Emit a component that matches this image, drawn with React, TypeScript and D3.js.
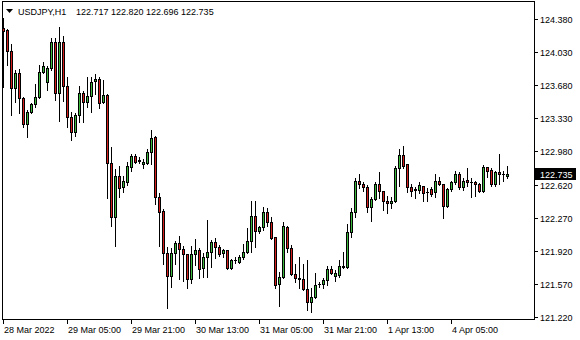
import React from "react";
import * as d3 from "d3";

const SYMBOL = "USDJPY,H1";
const HEADER_VALUES = "122.717 122.820 122.696 122.735";
const LAST_PRICE = 122.735;

const opens = [124.285,124.263,124.041,123.648,123.807,123.542,123.267,123.394,123.479,123.553,123.818,123.712,123.860,124.136,123.595,124.136,123.670,123.341,123.182,123.362,123.595,123.500,123.563,123.723,123.744,123.500,123.574,122.853,122.280,122.715,122.598,122.652,122.811,122.927,122.874,122.842,122.853,122.970,123.129,122.492,122.344,121.899,121.655,121.899,122.005,121.941,121.888,121.623,121.888,121.930,121.740,121.856,121.909,122.015,121.962,121.899,121.930,121.740,121.824,121.803,121.856,121.909,122.026,122.291,122.132,122.174,122.333,122.227,122.068,121.570,121.644,122.174,121.952,121.676,121.634,121.623,121.517,121.379,121.432,121.570,121.570,121.612,121.729,121.655,121.665,121.750,121.750,122.121,122.333,122.662,122.630,122.598,122.386,122.471,122.630,122.556,122.450,122.429,122.450,122.800,122.938,122.842,122.598,122.577,122.567,122.609,122.545,122.577,122.545,122.662,122.630,122.397,122.577,122.652,122.736,122.598,122.673,122.652,122.652,122.630,122.556,122.811,122.779,122.630,122.758,122.736,122.717];
const highs = [124.391,124.274,124.115,123.839,123.850,123.553,123.415,123.489,123.691,123.892,123.924,123.882,124.179,124.179,124.295,124.200,123.765,123.394,123.383,123.670,123.617,123.765,123.765,123.797,123.765,123.733,123.580,123.023,122.789,122.821,122.715,122.864,122.948,122.948,122.917,122.895,123.001,123.203,123.135,122.535,122.365,121.962,121.952,122.026,122.079,121.973,121.890,121.973,122.047,121.952,121.899,122.249,122.037,122.058,121.984,121.941,121.935,121.835,121.856,121.877,121.994,122.164,122.450,122.450,122.185,122.386,122.376,122.280,122.070,121.697,122.227,122.180,121.984,121.782,121.856,121.782,121.824,121.528,121.687,121.591,121.634,121.761,121.761,121.718,121.824,121.909,122.206,122.376,122.694,122.736,122.652,122.620,122.492,122.652,122.758,122.560,122.503,122.492,122.821,123.001,123.033,122.845,122.630,122.598,122.652,122.612,122.588,122.598,122.736,122.705,122.635,122.588,122.662,122.768,122.758,122.694,122.800,122.694,122.662,122.641,122.832,122.815,122.800,122.768,122.948,122.768,122.820];
const lows = [123.659,123.892,123.362,123.500,123.383,123.235,123.129,123.383,123.447,123.542,123.807,123.627,123.839,123.521,123.298,123.510,123.235,123.097,123.139,123.288,123.288,123.447,123.394,123.585,123.436,123.490,122.482,122.185,121.973,122.492,122.545,122.620,122.768,122.853,122.853,122.800,122.842,122.842,122.418,121.973,121.782,121.315,121.538,121.782,121.623,121.602,121.528,121.581,121.771,121.634,121.644,121.644,121.750,121.846,121.867,121.856,121.729,121.729,121.793,121.793,121.835,121.899,121.909,121.962,122.111,122.143,122.185,122.047,121.528,121.337,121.634,121.909,121.665,121.591,121.528,121.506,121.294,121.273,121.422,121.538,121.528,121.559,121.676,121.602,121.644,121.740,121.740,122.068,122.280,122.588,122.556,122.333,122.238,122.461,122.482,122.355,122.323,122.376,122.439,122.609,122.800,122.545,122.503,122.482,122.535,122.450,122.450,122.503,122.492,122.620,122.270,122.386,122.556,122.630,122.577,122.567,122.609,122.492,122.503,122.545,122.550,122.705,122.609,122.609,122.630,122.662,122.696];
const closes = [124.253,124.041,123.648,123.807,123.542,123.267,123.394,123.479,123.553,123.818,123.882,123.860,124.136,123.595,124.136,123.670,123.341,123.182,123.362,123.595,123.500,123.563,123.712,123.744,123.489,123.574,122.853,122.280,122.715,122.588,122.662,122.821,122.927,122.864,122.885,122.864,122.970,123.118,122.492,122.333,121.899,121.655,121.899,122.005,121.941,121.888,121.623,121.888,121.930,121.729,121.856,121.909,122.015,121.962,121.888,121.930,121.740,121.824,121.826,121.856,121.909,122.026,122.291,122.132,122.174,122.333,122.227,122.058,121.559,121.644,122.185,121.952,121.676,121.634,121.623,121.517,121.379,121.432,121.559,121.572,121.612,121.729,121.687,121.687,121.761,121.761,122.121,122.333,122.662,122.630,122.598,122.386,122.471,122.630,122.556,122.450,122.429,122.450,122.800,122.938,122.821,122.598,122.556,122.567,122.620,122.535,122.543,122.524,122.662,122.630,122.397,122.577,122.652,122.736,122.598,122.662,122.652,122.654,122.630,122.556,122.811,122.768,122.630,122.758,122.736,122.738,122.735];

const priceTicks = [124.38, 124.03, 123.68, 123.33, 122.98, 122.62, 122.27, 121.92, 121.57, 121.22];
const dateLabels = ["28 Mar 2022", "29 Mar 05:00", "29 Mar 21:00", "30 Mar 13:00", "31 Mar 05:00", "31 Mar 21:00", "1 Apr 13:00", "4 Apr 05:00"];
const dateLabelBars = [0, 16, 32, 48, 64, 80, 96, 112];

const W = 580, H = 340;
const LEFT = 2, RIGHT = 534, TOP = 1, BOTTOM = 319;
const FONT = "'Liberation Sans', Arial, sans-serif";
const BULL = "#3cb83c";
const BEAR = "#d41e1e";

export default function App() {
  const n = opens.length;
  const x = d3.scaleBand<number>().domain(d3.range(n)).range([1, 1 + 4 * n]);
  const y = d3.scaleLinear().domain([121.22, 124.38]).range([317, 19]);

  const candles = d3.range(n).map((i) => {
    const o = opens[i], c = closes[i], h = highs[i], l = lows[i];
    const cx = (x(i) as number) + 2; // centre pixel column
    const top = Math.round(y(Math.max(o, c)));
    const bot = Math.round(y(Math.min(o, c)));
    const hy = Math.round(y(h));
    const ly = Math.round(y(l));
    const bull = c >= o;
    return (
      <g key={i}>
        <line x1={cx + 0.5} x2={cx + 0.5} y1={hy} y2={ly + 1} stroke="#000" strokeWidth={1} />
        {bot - top >= 1 ? (
          <rect x={cx - 0.5} y={top + 0.5} width={2} height={bot - top} fill={bull ? BULL : BEAR} stroke="#000" strokeWidth={1} />
        ) : (
          <line x1={cx - 1} x2={cx + 2} y1={top + 0.5} y2={top + 0.5} stroke="#000" strokeWidth={1} />
        )}
      </g>
    );
  });

  const lastY = Math.round(y(LAST_PRICE));

  return (
    <svg width={W} height={H} style={{ position: "absolute", left: 0, top: 0, background: "#fff" }} fontFamily={FONT}>
      <rect x={0} y={0} width={W} height={H} fill="#fff" />
      <defs>
        <clipPath id="plot">
          <rect x={LEFT} y={TOP} width={RIGHT - LEFT} height={BOTTOM - TOP} />
        </clipPath>
      </defs>
      <g clipPath="url(#plot)">{candles}</g>
      {/* frame */}
      <line x1={LEFT + 0.5} x2={LEFT + 0.5} y1={TOP} y2={BOTTOM + 1} stroke="#000" />
      <line x1={RIGHT + 0.5} x2={RIGHT + 0.5} y1={TOP} y2={BOTTOM + 1} stroke="#000" />
      <line x1={LEFT} x2={RIGHT + 1} y1={BOTTOM + 0.5} y2={BOTTOM + 0.5} stroke="#000" />
      <line x1={LEFT} x2={RIGHT + 1} y1={TOP + 0.5} y2={TOP + 0.5} stroke="#000" />
      {/* header */}
      <path d="M6,9 L13,9 L9.5,13 Z" fill="#000" />
      <text x={18} y={14.5} fontSize={9} fill="#000">{SYMBOL}</text>
      <text x={76} y={14.5} fontSize={9} fill="#000">{HEADER_VALUES}</text>
      {/* price axis */}
      {priceTicks.map((p) => {
        const ty = Math.round(y(p));
        return (
          <g key={p}>
            <line x1={RIGHT + 1} x2={RIGHT + 4} y1={ty + 0.5} y2={ty + 0.5} stroke="#000" />
            <text x={540} y={ty + 3.5} fontSize={9} fill="#000">{p.toFixed(3)}</text>
          </g>
        );
      })}
      <rect x={RIGHT + 1} y={lastY - 6} width={41} height={12} fill="#000" />
      <text x={540} y={lastY + 3.5} fontSize={9} fill="#fff">{LAST_PRICE.toFixed(3)}</text>
      {/* time axis */}
      {dateLabels.map((lab, k) => {
        const tx = (x(dateLabelBars[k]) as number) + 2;
        return (
          <g key={lab}>
            <line x1={tx + 0.5} x2={tx + 0.5} y1={BOTTOM + 1} y2={BOTTOM + 5} stroke="#000" />
            <text x={tx + 1} y={333} fontSize={9} fill="#000">{lab}</text>
          </g>
        );
      })}
    </svg>
  );
}
